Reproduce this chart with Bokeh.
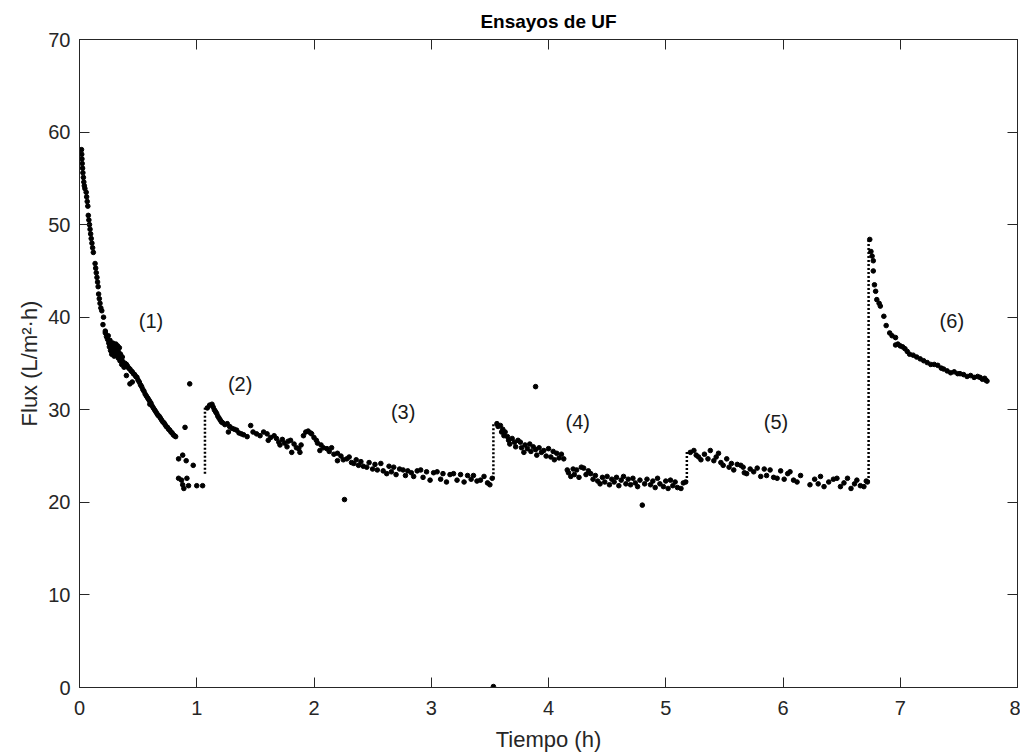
from bokeh.plotting import figure
from bokeh.models import LinearAxis, Range1d, FixedTicker
from bokeh.core.properties import value
from bokeh.embed import file_html
from bokeh.resources import INLINE

# ---- data ----
# segment (1)
t1 = [0.017, 0.019, 0.021, 0.023, 0.026, 0.029, 0.033, 0.037, 0.041, 0.046,
      0.057, 0.061, 0.066, 0.071,
      0.075, 0.080, 0.085, 0.090, 0.095, 0.100, 0.106, 0.112, 0.118,
      0.133, 0.138, 0.143, 0.149, 0.154, 0.159,
      0.163, 0.169, 0.175, 0.182,
      0.190, 0.200, 0.205, 0.220,
      0.22, 0.23, 0.24, 0.245, 0.25, 0.255, 0.26, 0.265, 0.27, 0.275, 0.28, 0.285,
      0.29, 0.295, 0.30, 0.305, 0.31, 0.315, 0.32, 0.325, 0.33, 0.335, 0.34, 0.345,
      0.35, 0.355, 0.36, 0.365, 0.37, 0.38, 0.39, 0.40,
      0.41, 0.42, 0.43, 0.44, 0.45, 0.46, 0.47, 0.48, 0.49, 0.50, 0.51, 0.52, 0.53,
      0.54, 0.55, 0.56, 0.57, 0.58, 0.59, 0.60, 0.61, 0.62, 0.63, 0.64, 0.65, 0.66,
      0.67, 0.68, 0.69, 0.70, 0.71, 0.72, 0.73, 0.74, 0.75, 0.76, 0.77, 0.78, 0.79,
      0.80, 0.81, 0.82, 0.40, 0.43, 0.45, 0.60]
f1 = [58.1, 57.6, 57.1, 56.6, 56.1, 55.6, 55.1, 54.6, 54.2, 53.9,
      53.5, 53.0, 52.5, 52.0,
      51.0, 50.5, 50.0, 49.5, 49.0, 48.5, 48.0, 47.5, 47.0,
      45.8, 45.3, 44.8, 44.3, 43.8, 43.3,
      42.5, 42.0, 41.5, 41.0,
      40.7, 39.2, 40.0, 38.5,
      38.3, 37.9, 37.6, 38.0, 37.2, 36.8, 37.5, 36.4, 37.0, 36.0, 36.6, 37.2,
      36.2, 35.8, 36.8, 36.3, 37.1, 35.9, 36.5, 36.9, 35.6, 36.2, 36.7, 35.3,
      36.0, 35.5, 34.9, 35.7, 35.2, 34.6, 35.0, 34.9,
      34.7, 34.5, 34.4, 34.2, 34.1, 33.9, 33.8, 33.6, 33.5, 33.2, 33.0, 32.7, 32.5,
      32.2, 32.0, 31.7, 31.5, 31.3, 31.1, 30.9, 30.7, 30.4, 30.2, 30.0, 29.8, 29.6,
      29.4, 29.3, 29.1, 28.9, 28.7, 28.6, 28.4, 28.2, 28.1, 27.9, 27.8, 27.6, 27.5,
      27.3, 27.2, 27.1, 33.7, 32.8, 33.0, 30.6]

# scattered points between (1) and (2)
t12 = [0.845, 0.88, 0.91, 0.97, 0.845, 0.87, 0.88, 0.93, 0.89, 0.90, 0.94, 1.00, 1.05, 0.916]
f12 = [24.7, 25.1, 24.5, 24.0, 22.6, 22.4, 21.9, 21.8, 21.5, 28.1, 32.8, 21.8, 21.8, 22.6]

# segments (2) and (3)
t23 = [1.09, 1.11, 1.13, 1.14, 1.15, 1.16, 1.17, 1.18, 1.19, 1.20, 1.21, 1.22, 1.24,
       1.26, 1.27, 1.28, 1.30, 1.32, 1.34, 1.36, 1.38, 1.40, 1.43, 1.46, 1.48, 1.51,
       1.54, 1.57, 1.60, 1.61, 1.63, 1.66, 1.68, 1.70, 1.71, 1.73, 1.75, 1.77, 1.78,
       1.80, 1.81, 1.83, 1.85, 1.87, 1.88, 1.89,
       1.91, 1.93, 1.95, 1.97, 1.98, 2.00, 2.02, 2.03, 2.05, 2.06, 2.08, 2.11, 2.13,
       2.15, 2.17, 2.20, 2.20, 2.23, 2.25, 2.28, 2.30, 2.32, 2.34, 2.36, 2.38, 2.40,
       2.42, 2.45, 2.47, 2.50, 2.52, 2.54, 2.57, 2.59, 2.62, 2.64, 2.66, 2.68, 2.70,
       2.73, 2.76, 2.78, 2.80, 2.83, 2.85, 2.88, 2.91, 2.93, 2.96, 2.99, 3.02, 3.05,
       3.08, 3.10, 3.13, 3.16, 3.19, 3.22, 3.25, 3.28, 3.31, 3.34, 3.36, 3.39, 3.42,
       3.45, 3.48, 3.50, 3.52]
f23 = [30.2, 30.5, 30.6, 30.3, 30.0, 29.8, 29.6, 29.3, 29.1, 28.9, 28.7, 28.6, 28.4,
       28.5, 27.6, 28.2, 28.0, 27.9, 27.8, 27.5, 27.4, 27.3, 27.1, 28.3, 27.6, 27.4,
       27.2, 27.6, 27.4, 26.7, 27.0, 27.2, 26.9, 26.5, 26.2, 26.8, 26.4, 26.0, 26.6,
       26.7, 25.4, 26.3, 25.9, 25.8, 25.4, 26.2,
       27.2, 27.6, 27.7, 27.5, 27.4, 27.0, 26.7, 26.4, 25.6, 26.2, 25.9, 25.8, 25.5,
       25.9, 25.2, 25.3, 24.5, 25.0, 24.6, 24.7, 24.9, 24.3, 24.2, 24.6, 24.0, 24.4,
       23.9, 23.8, 24.3, 23.6, 24.1, 23.5, 24.2, 23.4, 23.1, 23.9, 23.3, 23.8, 23.0,
       23.6, 23.5, 22.9, 23.4, 23.2, 22.8, 23.4, 23.5, 22.7, 23.3, 22.4, 23.2, 23.3,
       22.5, 23.1, 22.2, 23.0, 23.1, 22.4, 23.0, 22.2, 22.9, 22.5, 22.9, 22.3, 22.4,
       22.8, 22.1, 21.9, 22.6]

# segment (4)
t4 = [3.56, 3.57, 3.59, 3.60, 3.61, 3.62, 3.63, 3.65, 3.66, 3.67, 3.69, 3.71, 3.72,
      3.74, 3.76, 3.77, 3.79, 3.80, 3.82, 3.84, 3.85, 3.87, 3.89, 3.90, 3.92, 3.94,
      3.96, 3.98, 4.00, 4.02, 4.04, 4.05, 4.07, 4.09, 4.11, 4.13, 4.16, 4.17, 4.19,
      4.21, 4.22, 4.24, 4.26, 4.28, 4.30, 4.32, 4.34, 4.36, 4.38, 4.40, 4.42, 4.44,
      4.46, 4.48, 4.50, 4.52, 4.54, 4.56, 4.58, 4.60, 4.62, 4.64, 4.66, 4.68, 4.70,
      4.72, 4.74, 4.76, 4.78, 4.82, 4.84, 4.87, 4.89, 4.91, 4.93, 4.95, 4.98, 5.00,
      5.02, 5.04, 5.06, 5.08, 5.10, 5.13, 5.15, 5.17]
f4 = [28.5, 28.2, 28.3, 27.6, 27.9, 27.2, 27.6, 27.1, 26.7, 26.3, 26.9, 26.5, 26.0,
      26.7, 26.5, 25.9, 25.4, 26.2, 25.8, 26.3, 25.5, 26.0, 25.7, 25.1, 25.9, 25.4,
      25.6, 25.0, 25.8, 24.9, 25.5, 24.6, 25.3, 24.8, 25.2, 24.7, 23.5, 23.2, 22.8,
      23.6, 23.0, 23.5, 22.7, 23.8, 23.7, 23.0, 23.4, 23.1, 22.5, 22.9, 22.3, 22.0,
      22.7, 22.2, 22.8, 21.9, 22.5, 22.2, 22.7, 21.8, 22.4, 22.8, 22.0, 22.5, 21.9,
      22.6, 22.1, 21.7, 22.4, 22.0, 22.5, 21.9, 22.3, 21.6, 22.6, 22.0, 21.7, 22.3,
      21.5, 22.4, 21.8, 22.2, 21.6, 21.5, 22.1, 22.2]

# segment (5)
t5 = [5.21, 5.24, 5.26, 5.28, 5.30, 5.33, 5.36, 5.38, 5.41, 5.43, 5.45, 5.47, 5.49,
      5.52, 5.54, 5.56, 5.58, 5.61, 5.64, 5.66, 5.67, 5.69, 5.72, 5.75, 5.78, 5.81,
      5.84, 5.86, 5.89, 5.92, 5.95, 5.98, 6.01, 6.04, 6.06, 6.09, 6.12, 6.15, 6.23,
      6.27, 6.30, 6.32, 6.35, 6.39, 6.43, 6.46, 6.49, 6.52, 6.55, 6.58, 6.61, 6.63,
      6.66, 6.69, 6.71, 6.72]
f5 = [25.4, 25.6, 25.1, 24.9, 24.6, 25.2, 24.7, 25.6, 24.5, 24.9, 25.3, 24.3, 24.0,
      24.7, 23.8, 24.2, 23.5, 24.1, 24.0, 23.8, 23.2, 23.1, 23.6, 23.3, 23.7, 22.8,
      23.6, 22.9, 23.5, 22.7, 22.6, 23.4, 22.5, 23.1, 23.3, 22.4, 22.2, 22.9, 21.9,
      22.5, 22.0, 22.8, 21.7, 22.2, 22.5, 22.6, 21.7, 22.1, 22.6, 21.5, 22.0, 22.4,
      21.8, 21.7, 22.3, 22.2]

# segment (6)
t6 = [6.74, 6.75, 6.76, 6.77, 6.77, 6.78, 6.79, 6.80, 6.82, 6.83, 6.86, 6.88, 6.91,
      6.93, 6.96, 6.96, 6.98, 7.00, 7.02, 7.04, 7.06, 7.08, 7.11, 7.14, 7.17, 7.20,
      7.23, 7.26, 7.29, 7.32, 7.35, 7.37, 7.40, 7.43, 7.46, 7.49, 7.51, 7.54, 7.57,
      7.60, 7.63, 7.66, 7.68, 7.70, 7.72, 7.73, 7.74]
f6 = [48.4, 47.1, 46.6, 46.1, 45.0, 43.5, 42.8, 41.9, 41.5, 41.2, 40.1, 39.1, 38.3,
      38.0, 37.8, 37.0, 37.1, 36.9, 36.8, 36.6, 36.3, 36.0, 35.9, 35.7, 35.5, 35.3,
      35.1, 34.9, 34.9, 34.8, 34.5, 34.4, 34.2, 34.0, 34.1, 33.9, 33.9, 33.8, 33.6,
      33.7, 33.5, 33.6, 33.5, 33.3, 33.4, 33.2, 33.1]

# isolated outliers
t_out = [2.26, 3.53, 3.89, 4.80]
f_out = [20.3, 0.1, 32.5, 19.7]

# restart jumps (dotted vertical)
jump_t = [1.07, 3.53, 5.18, 6.73]
jump_lo = [23.1, 22.6, 22.2, 22.2]
jump_hi = [30.3, 28.5, 25.6, 48.4]

# annotations
lab_t = [0.61, 1.37, 2.76, 4.25, 5.94, 7.44]
lab_f = [39.6, 32.8, 29.8, 28.7, 28.7, 39.6]
lab_txt = ["(1)", "(2)", "(3)", "(4)", "(5)", "(6)"]

x_ticks = [0, 1, 2, 3, 4, 5, 6, 7, 8]
y_ticks = [0, 10, 20, 30, 40, 50, 60, 70]

FONT = "Liberation Sans"
AX = "#262626"

p = figure(width=1020, height=754, output_backend="svg", toolbar_location=None,
           x_range=Range1d(0, 8), y_range=Range1d(0, 70),
           min_border_left=79, min_border_right=3, min_border_top=38,
           min_border_bottom=66, title="Ensayos de UF")
p.xgrid.visible = False
p.ygrid.visible = False
p.outline_line_color = AX
p.background_fill_color = "white"
p.border_fill_color = "white"

p.title.align = "center"
p.title.text_font = FONT
p.title.text_font_size = "19px"
p.title.text_font_style = "bold"
p.title.text_color = "black"
p.title.standoff = 16

bottom = p.below[0]
left = p.left[0]
top = LinearAxis()
right = LinearAxis()

for ax, ticks in [(bottom, x_ticks), (left, y_ticks), (top, x_ticks), (right, y_ticks)]:
    ax.ticker = FixedTicker(ticks=ticks)
    ax.major_tick_in = 10
    ax.major_tick_out = 0
    ax.minor_tick_in = 0
    ax.minor_tick_out = 0
    ax.axis_line_color = AX
    ax.major_tick_line_color = AX
    ax.major_label_text_font = FONT
    ax.major_label_text_font_size = "20px"
    ax.major_label_text_color = AX
    ax.axis_label_text_font = FONT
    ax.axis_label_text_font_size = "22px"
    ax.axis_label_text_color = AX
    ax.axis_label_text_font_style = "normal"

top.major_label_overrides = {t: "" for t in x_ticks}
right.major_label_overrides = {t: "" for t in y_ticks}
top.major_label_standoff = 0
right.major_label_standoff = 0
p.add_layout(top, "above")
p.add_layout(right, "right")

bottom.major_label_standoff = 13
left.major_label_standoff = 9
bottom.axis_label = "Tiempo (h)"
left.axis_label = "Flux (L/m²·h)"
bottom.axis_label_standoff = 9
left.axis_label_standoff = 3

p.segment(x0=jump_t, y0=jump_lo, x1=jump_t, y1=jump_hi, line_color="black",
          line_width=2.5, line_dash="2 2")

for tt, ff in [(t1, f1), (t12, f12), (t23, f23), (t4, f4), (t5, f5), (t6, f6), (t_out, f_out)]:
    p.scatter(tt, ff, size=4.6, color="black")

p.text(x=lab_t, y=lab_f, text=lab_txt, text_align="center", text_baseline="middle",
       text_font=value(FONT), text_font_size="20px", text_color="#1a1a1a")

open("out.html", "w").write(file_html(p, INLINE))
